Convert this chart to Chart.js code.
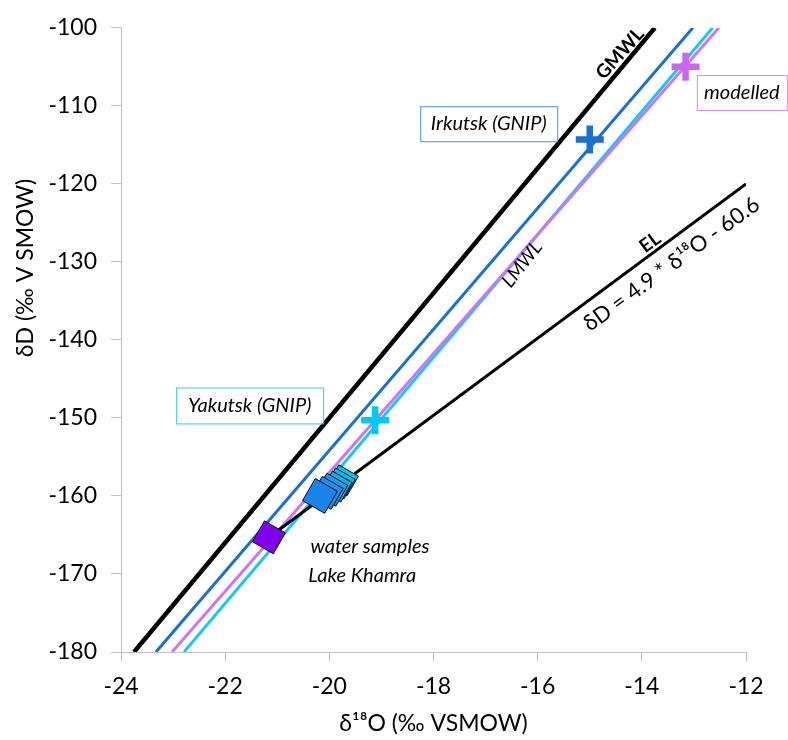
<!DOCTYPE html>
<html>
<head>
<meta charset="utf-8">
<script src="https://cdn.jsdelivr.net/npm/chart.js@4.4.1/dist/chart.umd.min.js"></script>
<style>
    body { margin: 0; background: #ffffff; }
    #wrap { width: 788px; height: 740px; position: relative; }
</style>
</head>
<body>
<div id="wrap"><canvas id="iso-chart"></canvas></div>
<script>
// Water lines (two end points each, δ18O / δD)
const gmwlX = [-23.75, -13.75];
const gmwlY = [-180, -100];
const irkutskLineX = [-23.33, -13.02];
const irkutskLineY = [-180, -100];
const modelledLineX = [-23.02, -12.52];
const modelledLineY = [-180, -100];
const yakutskLineX = [-22.79, -12.64];
const yakutskLineY = [-180, -100];
const elX = [-21.16, -12.0];
const elY = [-165.3, -120.0];

// Station means (crosses)
const crossNames = ['Irkutsk (GNIP)', 'Yakutsk (GNIP)', 'modelled'];
const crossX = [-15.0, -19.12, -13.16];
const crossY = [-114.3, -150.3, -105.0];

// Lake Khamra water samples
const sampleX = [-19.74, -19.80, -19.86, -19.96, -20.05, -20.18, -21.16];
const sampleY = [-158.0, -158.4, -158.8, -159.2, -159.6, -160.0, -165.3];

// Axis ticks
const xTicks = [-24, -22, -20, -18, -16, -14, -12];
const yTicks = [-180, -170, -160, -150, -140, -130, -120, -110, -100];

const toPoints = (xs, ys) => xs.map((v, i) => ({ x: v, y: ys[i] }));

const FONT = 'Lato';
const sampleColors = ['#00c6f4', '#00bff2', '#06b4f0', '#149fee', '#1890ef', '#1a84ec', '#8000ee'];
const sampleSizes = [16, 16, 16, 17, 17, 18, 17];
const crossColors = ['#1a6fd0', '#00c8f4', '#cc66ee'];

function lineSet(label, xs, ys, color, width) {
    return {
        label: label,
        data: toPoints(xs, ys),
        showLine: true,
        borderColor: color,
        borderWidth: width,
        pointRadius: 0,
        order: 3
    };
}

// Text labels placed in data coordinates
const notes = [
    { text: 'GMWL', x: -14.42, y: -103.3, angle: -48, font: 'bold 19px ' + FONT },
    { text: 'Irkutsk (GNIP)', x: -16.94, y: -112.3, font: 'italic 20px ' + FONT, box: [137, 35], boxColor: '#4a8fdc' },
    { text: 'modelled', x: -12.08, y: -108.3, font: 'italic 20px ' + FONT, box: [90, 35], boxColor: '#dd88f0' },
    { text: 'Yakutsk (GNIP)', x: -21.53, y: -148.4, font: 'italic 20px ' + FONT, box: [147, 36], boxColor: '#30ccf2' },
    { text: 'LMWL', x: -16.3, y: -130.3, angle: -52, font: 'italic 19px ' + FONT },
    { text: 'EL', x: -13.84, y: -127.5, angle: -36, font: 'bold 19px ' + FONT },
    { text: 'δD = 4.9 * δ¹⁸O - 60.6', x: -13.43, y: -130.3, angle: -36, font: '22px ' + FONT },
    { text: 'water samples', x: -19.22, y: -166.5, font: 'italic 20px ' + FONT },
    { text: 'Lake Khamra', x: -19.37, y: -170.2, font: 'italic 20px ' + FONT }
];

const notesPlugin = {
    id: 'notes',
    afterDraw(chart) {
        const { ctx, scales: { x, y } } = chart;
        notes.forEach(n => {
            ctx.save();
            ctx.translate(x.getPixelForValue(n.x), y.getPixelForValue(n.y));
            ctx.rotate((n.angle || 0) * Math.PI / 180);
            if (n.box) {
                ctx.fillStyle = '#ffffff';
                ctx.fillRect(-n.box[0] / 2, -n.box[1] / 2, n.box[0], n.box[1]);
                ctx.strokeStyle = n.boxColor;
                ctx.lineWidth = 1;
                ctx.strokeRect(-n.box[0] / 2 + 0.5, -n.box[1] / 2 + 0.5, n.box[0], n.box[1]);
            }
            ctx.font = n.font;
            ctx.fillStyle = '#000000';
            ctx.textAlign = 'center';
            ctx.textBaseline = 'middle';
            ctx.fillText(n.text, 0, 0);
            ctx.restore();
        });

        // y axis title (sits above the middle in the original)
        ctx.save();
        ctx.translate(26, 268);
        ctx.rotate(-Math.PI / 2);
        ctx.font = '23px ' + FONT;
        ctx.fillStyle = '#000000';
        ctx.textAlign = 'center';
        ctx.textBaseline = 'middle';
        ctx.fillText('δD (‰ V SMOW)', 0, 0);
        ctx.restore();
    }
};

const ctx = document.getElementById('iso-chart').getContext('2d');
new Chart(ctx, {
    type: 'scatter',
    data: {
        datasets: [
            {
                label: 'stations',
                data: toPoints(crossX, crossY),
                pointStyle: 'cross',
                pointRadius: 14,
                pointBorderWidth: 6.5,
                borderColor: crossColors,
                backgroundColor: crossColors,
                order: 1
            },
            {
                label: 'water samples Lake Khamra',
                data: toPoints(sampleX, sampleY),
                pointStyle: 'rect',
                pointRotation: 30,
                pointRadius: sampleSizes,
                backgroundColor: sampleColors,
                borderColor: '#000000',
                borderWidth: 1,
                order: 2
            },
            lineSet('EL', elX, elY, '#000000', 3),
            lineSet('GMWL', gmwlX, gmwlY, '#000000', 4.5),
            lineSet('Irkutsk LMWL', irkutskLineX, irkutskLineY, '#1a6fd0', 3),
            lineSet('modelled LMWL', modelledLineX, modelledLineY, '#cc77f0', 3),
            lineSet('Yakutsk LMWL', yakutskLineX, yakutskLineY, '#18c8f2', 3)
        ]
    },
    options: {
        responsive: true,
        maintainAspectRatio: false,
        animation: false,
        layout: { padding: { top: 24, right: 42, left: 0, bottom: 0 } },
        plugins: {
            legend: { display: false },
            tooltip: { enabled: false }
        },
        scales: {
            x: {
                type: 'linear',
                min: -24,
                max: -12,
                afterFit: s => { s.height = 88; },
                afterBuildTicks: s => { s.ticks = xTicks.map(v => ({ value: v })); },
                grid: { drawOnChartArea: false, drawTicks: true, tickLength: 10, color: '#bfbfbf' },
                border: { color: '#bfbfbf' },
                ticks: { color: '#000000', padding: 11, font: { family: FONT, size: 23 } },
                title: {
                    display: true,
                    text: 'δ¹⁸O (‰ VSMOW)',
                    color: '#000000',
                    padding: { top: 0, bottom: 3 },
                    font: { family: FONT, size: 23 }
                }
            },
            y: {
                type: 'linear',
                min: -180,
                max: -100,
                afterFit: s => { s.width = 121; },
                afterBuildTicks: s => { s.ticks = yTicks.map(v => ({ value: v })); },
                grid: { drawOnChartArea: false, drawTicks: true, tickLength: 10, color: '#bfbfbf' },
                border: { color: '#bfbfbf' },
                ticks: { color: '#000000', padding: 14, font: { family: FONT, size: 23 } }
            }
        }
    },
    plugins: [notesPlugin]
});
</script>
</body>
</html>
